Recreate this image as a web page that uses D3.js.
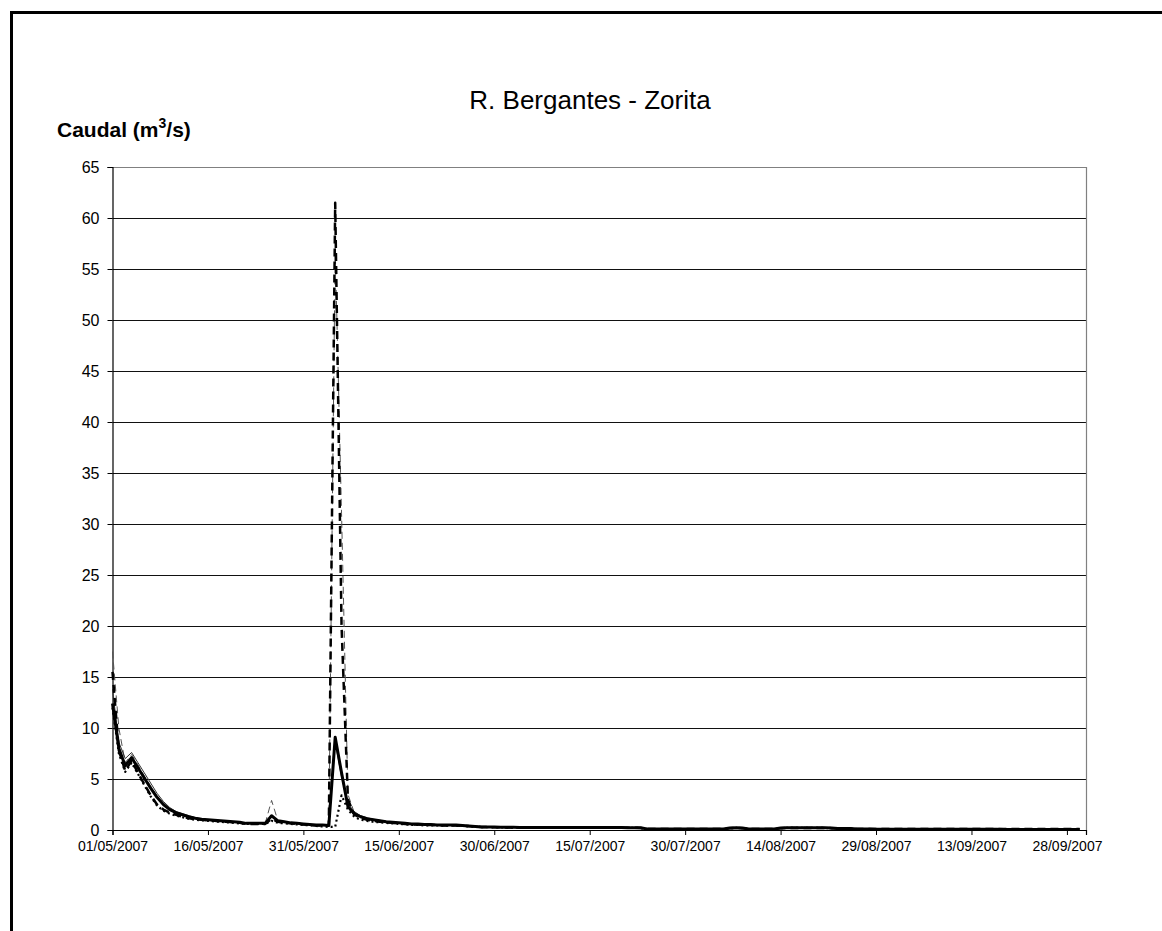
<!DOCTYPE html>
<html>
<head>
<meta charset="utf-8">
<script src="https://cdn.jsdelivr.net/npm/d3@7"></script>
<style>
  html, body { margin: 0; padding: 0; background: #fff; }
  svg { display: block; }
  text { font-family: "Liberation Sans", Arial, sans-serif; fill: #000; }
</style>
</head>
<body>
<svg id="chart" width="1162" height="931"></svg>
<script>
// ---------------- DATA ----------------
const title = "R. Bergantes - Zorita";
const startDate = "2007-05-01";
const nDays = 153;
const yTicks = [0, 5, 10, 15, 20, 25, 30, 35, 40, 45, 50, 55, 60, 65];
const xTickLabels = ["01/05/2007", "16/05/2007", "31/05/2007", "15/06/2007", "30/06/2007",
  "15/07/2007", "30/07/2007", "14/08/2007", "29/08/2007", "13/09/2007", "28/09/2007"];

// thick solid line
const seriesThickSolid = [
  12.4, 8.0, 6.3, 7.1, 6.1, 5.1, 4.1, 3.2, 2.5, 2.0,
  1.7, 1.5, 1.3, 1.15, 1.05, 1.0, 0.95, 0.9, 0.85, 0.8,
  0.75, 0.65, 0.65, 0.65, 0.65, 1.4, 0.9, 0.8, 0.7, 0.65,
  0.6, 0.55, 0.5, 0.5, 0.45, 9.1, 5.6, 2.3, 1.6, 1.3,
  1.1, 1.0, 0.9, 0.8, 0.75, 0.7, 0.65, 0.6, 0.6, 0.55,
  0.55, 0.5, 0.5, 0.5, 0.5, 0.45, 0.4, 0.35, 0.3, 0.3,
  0.3, 0.28, 0.27, 0.26, 0.25, 0.25, 0.25, 0.25, 0.25, 0.25,
  0.25, 0.25, 0.25, 0.25, 0.25, 0.25, 0.25, 0.24, 0.24, 0.24,
  0.24, 0.23, 0.23, 0.22, 0.1, 0.1, 0.1, 0.1, 0.1, 0.1,
  0.1, 0.1, 0.1, 0.1, 0.1, 0.1, 0.1, 0.2, 0.22, 0.2,
  0.1, 0.1, 0.1, 0.1, 0.1, 0.2, 0.22, 0.22, 0.22, 0.22,
  0.22, 0.22, 0.22, 0.2, 0.15, 0.15, 0.15, 0.1, 0.1, 0.1,
  0.08, 0.08, 0.08, 0.08, 0.08, 0.08, 0.08, 0.08, 0.08, 0.08,
  0.07, 0.07, 0.07, 0.07, 0.07, 0.07, 0.07, 0.07, 0.07, 0.07,
  0.06, 0.06, 0.06, 0.06, 0.06, 0.06, 0.06, 0.06, 0.06, 0.06,
  0.06, 0.06, 0.06
];
// thin solid line
const seriesThinSolid = [
  13.8, 8.6, 7.0, 7.6, 6.6, 5.6, 4.6, 3.6, 2.8, 2.2,
  1.8, 1.6, 1.4, 1.2, 1.1, 1.0, 0.95, 0.9, 0.85, 0.8,
  0.75, 0.7, 0.65, 0.65, 0.65, 1.3, 0.95, 0.8, 0.7, 0.65,
  0.6, 0.55, 0.5, 0.5, 0.45, 8.6, 5.2, 2.6, 1.8, 1.4,
  1.2, 1.05, 0.95, 0.85, 0.8, 0.72, 0.67, 0.62, 0.6, 0.57,
  0.55, 0.52, 0.5, 0.5, 0.5, 0.46, 0.42, 0.37, 0.32, 0.3,
  0.3, 0.28, 0.27, 0.26, 0.25, 0.25, 0.25, 0.25, 0.25, 0.25,
  0.25, 0.25, 0.25, 0.25, 0.25, 0.25, 0.25, 0.24, 0.24, 0.24,
  0.24, 0.23, 0.23, 0.22, 0.12, 0.1, 0.1, 0.1, 0.1, 0.1,
  0.1, 0.1, 0.1, 0.1, 0.1, 0.1, 0.12, 0.2, 0.22, 0.2,
  0.12, 0.1, 0.1, 0.1, 0.1, 0.2, 0.22, 0.22, 0.22, 0.22,
  0.22, 0.22, 0.22, 0.2, 0.16, 0.15, 0.15, 0.1, 0.1, 0.1,
  0.1, 0.1, 0.1, 0.1, 0.1, 0.1, 0.1, 0.1, 0.1, 0.1,
  0.1, 0.1, 0.1, 0.1, 0.1, 0.1, 0.1, 0.1, 0.1, 0.1,
  0.1, 0.1, 0.1, 0.1, 0.1, 0.1, 0.1, 0.1, 0.1, 0.1,
  0.1, 0.1, 0.1
];
// thick dashed line
const seriesThickDashed = [
  15.5, 7.8, 5.8, 6.8, 5.6, 4.5, 3.4, 2.5, 2.0, 1.7,
  1.5, 1.3, 1.15, 1.05, 1.0, 0.95, 0.9, 0.85, 0.8, 0.75,
  0.7, 0.6, 0.6, 0.6, 0.6, 1.1, 0.8, 0.7, 0.65, 0.6,
  0.55, 0.5, 0.45, 0.45, 0.45, 61.5, 20.0, 3.0, 1.5, 1.2,
  1.0, 0.9, 0.8, 0.75, 0.7, 0.65, 0.6, 0.55, 0.55, 0.5,
  0.5, 0.5, 0.45, 0.45, 0.45, 0.4, 0.38, 0.33, 0.3, 0.28,
  0.28, 0.26, 0.25, 0.25, 0.24, 0.24, 0.24, 0.24, 0.24, 0.24,
  0.24, 0.24, 0.24, 0.24, 0.24, 0.24, 0.23, 0.23, 0.23, 0.22,
  0.22, 0.22, 0.21, 0.2, 0.1, 0.1, 0.1, 0.1, 0.1, 0.1,
  0.1, 0.1, 0.1, 0.1, 0.1, 0.1, 0.1, 0.18, 0.2, 0.18,
  0.1, 0.1, 0.1, 0.1, 0.1, 0.18, 0.2, 0.2, 0.2, 0.2,
  0.2, 0.2, 0.2, 0.18, 0.14, 0.14, 0.14, 0.1, 0.1, 0.1,
  0.1, 0.1, 0.1, 0.1, 0.1, 0.1, 0.1, 0.1, 0.1, 0.1,
  0.1, 0.1, 0.1, 0.1, 0.1, 0.1, 0.1, 0.1, 0.1, 0.1,
  0.1, 0.1, 0.1, 0.1, 0.1, 0.1, 0.1, 0.1, 0.1, 0.1,
  0.1, 0.1, 0.1
];
// thin dashed line
const seriesThinDashed = [
  17.5, 10.0, 6.6, 7.4, 6.4, 5.3, 4.3, 3.3, 2.6, 2.1,
  1.8, 1.55, 1.35, 1.2, 1.1, 1.0, 0.95, 0.9, 0.85, 0.8,
  0.75, 0.65, 0.65, 0.65, 0.65, 2.9, 0.9, 0.8, 0.7, 0.65,
  0.6, 0.55, 0.5, 0.5, 0.45, 57.0, 31.0, 3.5, 1.7, 1.3,
  1.1, 1.0, 0.9, 0.8, 0.75, 0.7, 0.65, 0.6, 0.6, 0.55,
  0.55, 0.5, 0.5, 0.5, 0.5, 0.45, 0.4, 0.35, 0.3, 0.3,
  0.3, 0.28, 0.27, 0.26, 0.25, 0.25, 0.25, 0.25, 0.25, 0.25,
  0.25, 0.25, 0.25, 0.25, 0.25, 0.25, 0.25, 0.24, 0.24, 0.24,
  0.24, 0.23, 0.23, 0.22, 0.1, 0.1, 0.1, 0.1, 0.1, 0.1,
  0.1, 0.1, 0.1, 0.1, 0.1, 0.1, 0.1, 0.2, 0.22, 0.2,
  0.1, 0.1, 0.1, 0.1, 0.1, 0.2, 0.22, 0.22, 0.22, 0.22,
  0.22, 0.22, 0.22, 0.2, 0.15, 0.15, 0.15, 0.1, 0.1, 0.1,
  0.1, 0.1, 0.1, 0.1, 0.1, 0.1, 0.1, 0.1, 0.1, 0.1,
  0.1, 0.1, 0.1, 0.1, 0.1, 0.1, 0.1, 0.1, 0.1, 0.1,
  0.1, 0.1, 0.1, 0.1, 0.1, 0.1, 0.1, 0.1, 0.1, 0.1,
  0.1, 0.1, 0.1
];
// dotted line
const seriesDotted = [
  12.0, 7.5, 5.7, 6.6, 5.5, 4.4, 3.3, 2.4, 1.9, 1.6,
  1.4, 1.25, 1.1, 1.0, 0.95, 0.9, 0.85, 0.8, 0.75, 0.7,
  0.65, 0.6, 0.6, 0.6, 0.6, 0.9, 0.7, 0.65, 0.6, 0.55,
  0.5, 0.45, 0.4, 0.35, 0.3, 0.3, 3.4, 2.0, 1.3, 1.0,
  0.9, 0.8, 0.75, 0.7, 0.65, 0.6, 0.55, 0.5, 0.5, 0.45,
  0.45, 0.45, 0.42, 0.42, 0.42, 0.4, 0.36, 0.32, 0.28, 0.27,
  0.27, 0.25, 0.24, 0.24, 0.23, 0.23, 0.23, 0.23, 0.23, 0.23,
  0.23, 0.23, 0.23, 0.23, 0.23, 0.23, 0.22, 0.22, 0.22, 0.22,
  0.22, 0.21, 0.21, 0.2, 0.09, 0.09, 0.09, 0.09, 0.09, 0.09,
  0.09, 0.09, 0.09, 0.09, 0.09, 0.09, 0.09, 0.18, 0.2, 0.18,
  0.09, 0.09, 0.09, 0.09, 0.09, 0.18, 0.2, 0.2, 0.2, 0.2,
  0.2, 0.2, 0.2, 0.18, 0.14, 0.14, 0.14, 0.09, 0.09, 0.09,
  0.09, 0.09, 0.09, 0.09, 0.09, 0.09, 0.09, 0.09, 0.09, 0.09,
  0.09, 0.09, 0.09, 0.09, 0.09, 0.09, 0.09, 0.09, 0.09, 0.09,
  0.09, 0.09, 0.09, 0.09, 0.09, 0.09, 0.09, 0.09, 0.09, 0.09,
  0.09, 0.09, 0.09
];

// ---------------- CHART ----------------
const svg = d3.select("#chart");
const t0 = new Date(startDate + "T00:00:00Z");
const dates = d3.utcDay.range(t0, d3.utcDay.offset(t0, nDays));
const parseLabel = d3.utcParse("%d/%m/%Y");
const fmt = d3.utcFormat("%d/%m/%Y");

const plot = { left: 112.5, right: 1086, top: 167, bottom: 830 };
const x = d3.scaleUtc()
  .domain([t0, d3.utcDay.offset(t0, nDays)])
  .range([plot.left, plot.right]);
const y = d3.scaleLinear().domain([0, 65]).range([plot.bottom, plot.top]);

// outer frame
svg.append("rect")
  .attr("x", 11.5).attr("y", 12.5)
  .attr("width", 1170).attr("height", 940)
  .attr("fill", "none").attr("stroke", "#000").attr("stroke-width", 3);

// gridlines
svg.append("g")
  .selectAll("line")
  .data(yTicks.filter(d => d > 0))
  .join("line")
  .attr("x1", plot.left).attr("x2", plot.right)
  .attr("y1", d => Math.round(y(d)) + 0.5).attr("y2", d => Math.round(y(d)) + 0.5)
  .attr("stroke", d => d === 65 ? "#808080" : "#111")
  .attr("stroke-width", 1);

// right plot border
svg.append("line")
  .attr("x1", plot.right + 0.5).attr("x2", plot.right + 0.5)
  .attr("y1", plot.top).attr("y2", plot.bottom)
  .attr("stroke", "#808080").attr("stroke-width", 1.2);

// Y axis
const yAxis = d3.axisLeft(y).tickValues(yTicks).tickSize(5).tickPadding(8)
  .tickFormat(d3.format("d"));
const gy = svg.append("g").attr("transform", `translate(${plot.left},0)`).call(yAxis);
gy.select(".domain").attr("stroke", "#000").attr("stroke-width", 1.2);
gy.selectAll(".tick line").attr("stroke", "#000");
gy.selectAll(".tick text")
  .style("font-family", "'Liberation Sans', Arial, sans-serif")
  .style("font-size", "16px").attr("fill", "#000");

// X axis
const xTickDates = xTickLabels.map(parseLabel);
const xAxis = d3.axisBottom(x).tickValues(xTickDates).tickSize(5).tickPadding(6)
  .tickFormat(fmt);
const gx = svg.append("g").attr("transform", `translate(0,${plot.bottom})`).call(xAxis);
gx.select(".domain").attr("stroke", "#000").attr("stroke-width", 1.2);
gx.selectAll(".tick line").attr("stroke", "#000");
gx.selectAll(".tick text")
  .style("font-family", "'Liberation Sans', Arial, sans-serif")
  .style("font-size", "14px").attr("fill", "#000");

// series
const line = d3.line()
  .x((d, i) => x(dates[i]))
  .y(d => y(d));

const series = [
  { values: seriesThinDashed, stroke: "#555", width: 1, dash: "7,4" },
  { values: seriesThinSolid, stroke: "#333", width: 1, dash: null },
  { values: seriesDotted, stroke: "#000", width: 2.2, dash: "2,3" },
  { values: seriesThickDashed, stroke: "#000", width: 2.5, dash: "8,5" },
  { values: seriesThickSolid, stroke: "#000", width: 3, dash: null }
];
svg.append("g").selectAll("path")
  .data(series)
  .join("path")
  .attr("d", d => line(d.values))
  .attr("fill", "none")
  .attr("stroke", d => d.stroke)
  .attr("stroke-width", d => d.width)
  .attr("stroke-dasharray", d => d.dash)
  .attr("stroke-linejoin", "round");

// title
svg.append("text")
  .attr("x", 590).attr("y", 109)
  .attr("text-anchor", "middle")
  .style("font-size", "26px")
  .text(title);

// y axis title
const yt = svg.append("text")
  .attr("x", 57).attr("y", 137)
  .style("font-size", "21px").style("font-weight", "bold");
yt.append("tspan").text("Caudal (m");
yt.append("tspan").attr("dy", -9).style("font-size", "14px").text("3");
yt.append("tspan").attr("dy", 9).text("/s)");
</script>
</body>
</html>
